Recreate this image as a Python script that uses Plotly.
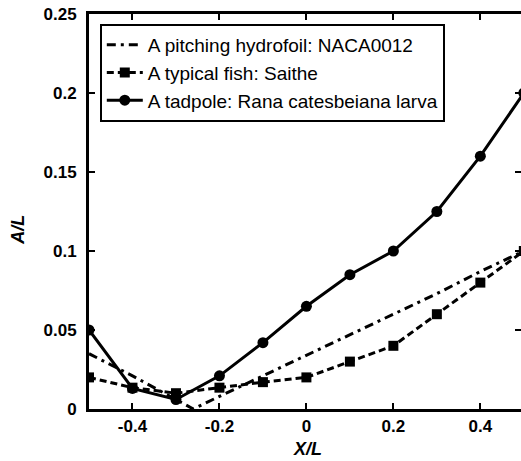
import plotly.graph_objects as go

x_foil = [-0.5, -0.4, -0.3, -0.26, -0.2, -0.1, 0.0, 0.1, 0.2, 0.3, 0.4, 0.5]
a_foil = [0.035, 0.021, 0.006, 0.0, 0.008, 0.021, 0.034, 0.047, 0.060, 0.073, 0.087, 0.100]

x_fish = [-0.5, -0.4, -0.3, -0.2, -0.1, 0.0, 0.1, 0.2, 0.3, 0.4, 0.5]
a_fish = [0.020, 0.0135, 0.010, 0.0135, 0.017, 0.020, 0.030, 0.040, 0.060, 0.080, 0.100]

x_tad = [-0.5, -0.4, -0.3, -0.2, -0.1, 0.0, 0.1, 0.2, 0.3, 0.4, 0.5]
a_tad = [0.050, 0.013, 0.006, 0.021, 0.042, 0.065, 0.085, 0.100, 0.125, 0.160, 0.200]

names = ["A pitching hydrofoil: NACA0012", "A typical fish: Saithe",
         "A tadpole: Rana catesbeiana larva"]
x_ticks = [-0.4, -0.2, 0, 0.2, 0.4]
x_tick_text = ["-0.4", "-0.2", "0", "0.2", "0.4"]
y_ticks = [0, 0.05, 0.1, 0.15, 0.2, 0.25]
y_tick_text = ["0", "0.05", "0.1", "0.15", "0.2", "0.25"]
x_title = "X/L"
y_title = "A/L"

FONT = "Liberation Sans, Arial, Helvetica, sans-serif"

fig = go.Figure()
fig.add_trace(go.Scatter(x=x_foil, y=a_foil, mode="lines", name=names[0],
                         line=dict(color="black", width=3, dash="9px,5px,3px,5px")))
fig.add_trace(go.Scatter(x=x_fish, y=a_fish, mode="lines+markers", name=names[1],
                         line=dict(color="black", width=3, dash="7px,4px"),
                         marker=dict(symbol="square", size=10, color="black")))
fig.add_trace(go.Scatter(x=x_tad, y=a_tad, mode="lines+markers", name=names[2],
                         line=dict(color="black", width=3),
                         marker=dict(symbol="circle", size=11, color="black")))
# invisible trace to carry the right-side tick axis
fig.add_trace(go.Scatter(x=[x_tad[0]], y=[a_tad[0]], yaxis="y2", mode="markers",
                         marker=dict(opacity=0), showlegend=False, hoverinfo="skip"))

fig.update_layout(
    width=521, height=461,
    margin=dict(l=89, r=0, t=14, b=52),
    paper_bgcolor="white", plot_bgcolor="white",
    font=dict(family=FONT, color="black", size=16),
    xaxis=dict(range=[-0.5, 0.4935], tickvals=x_ticks, ticktext=x_tick_text,
               ticks="inside", ticklen=6, tickwidth=2, tickcolor="black",
               showline=True, linewidth=3, linecolor="black", mirror="ticks",
               showgrid=False, zeroline=False, automargin=False,
               tickfont=dict(family=FONT, size=17, weight="bold")),
    yaxis=dict(range=[0, 0.25], tickvals=y_ticks, ticktext=y_tick_text,
               ticks="inside", ticklen=6, tickwidth=2, tickcolor="black",
               showline=True, linewidth=3, linecolor="black",
               showgrid=False, zeroline=False, automargin=False,
               ticklabelstandoff=6, ticklabeloverflow="allow",
               tickfont=dict(family=FONT, size=17, weight="bold")),
    yaxis2=dict(range=[0, 0.25], overlaying="y", side="right", tickvals=y_ticks,
                ticks="inside", ticklen=6, tickwidth=2, tickcolor="black",
                showticklabels=False, showline=False, showgrid=False,
                zeroline=False, automargin=False),
    legend=dict(x=0.025, y=0.975, xanchor="left", yanchor="top",
                bgcolor="white", bordercolor="black", borderwidth=2,
                font=dict(family=FONT, size=19), tracegroupgap=0,
                itemwidth=36),
    showlegend=True,
    annotations=[
        dict(text="<b><i>" + x_title + "</i></b>", xref="paper", yref="paper",
             x=0.505, y=-0.101, xanchor="center", yanchor="middle",
             showarrow=False, font=dict(family=FONT, size=18)),
        dict(text="<b><i>" + y_title + "</i></b>", xref="paper", yref="paper",
             x=-0.165, y=0.453, xanchor="center", yanchor="middle",
             textangle=-90, showarrow=False, font=dict(family=FONT, size=18)),
    ],
)

fig.write_html("out.html", config={"displayModeBar": False},
               post_script="document.body.style.margin='0';"
                           "document.documentElement.style.overflow='hidden';")
